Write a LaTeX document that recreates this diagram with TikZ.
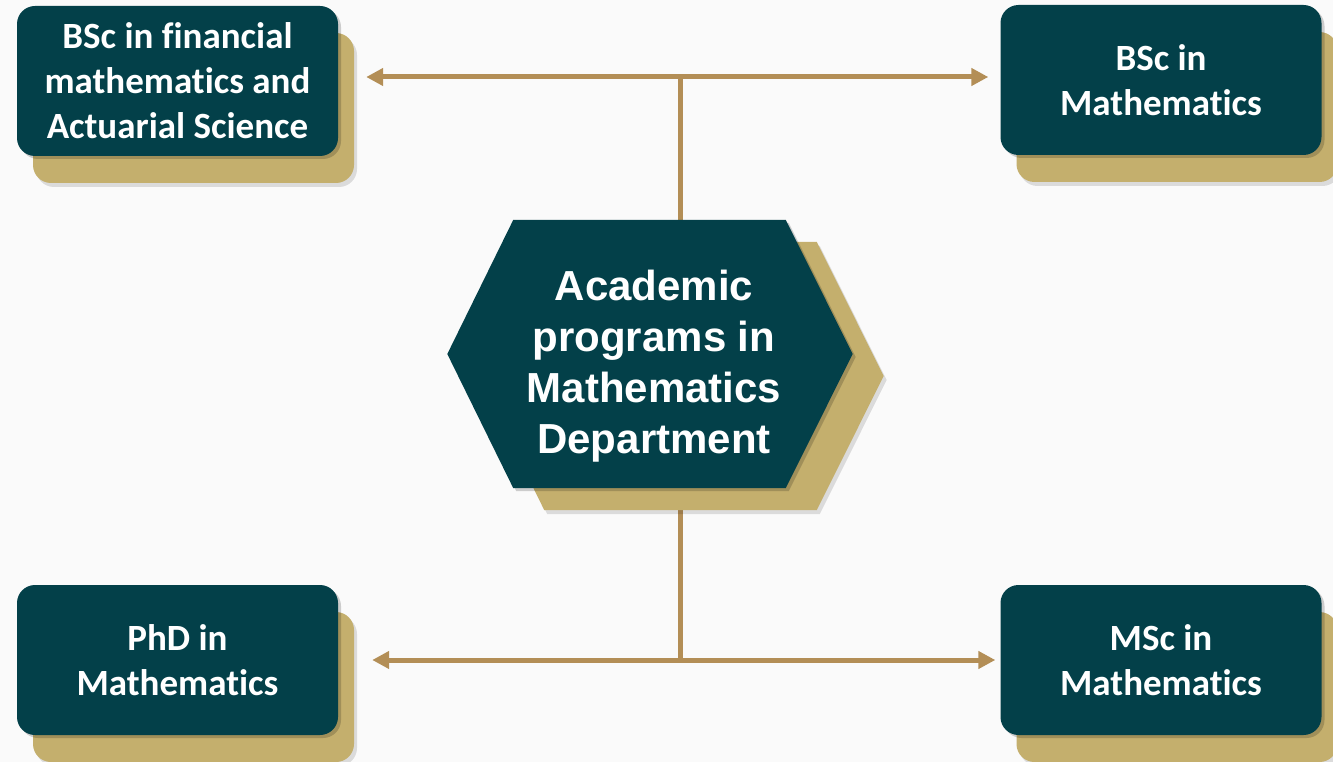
\documentclass[tikz,border=0pt]{standalone}
\usepackage{fontspec}
\setmainfont{Carlito}[Ligatures=NoCommon]
\newfontfamily\hexfont{Liberation Sans}
\usetikzlibrary{arrows.meta, positioning, shadows, backgrounds}
\definecolor{deepteal}{RGB}{3,64,73}
\definecolor{sand}{RGB}{196,175,109}
\definecolor{bronze}{RGB}{179,142,86}
\definecolor{paper}{RGB}{250,250,250}
\tikzset{
    program/.style={fill=deepteal, rounded corners=18pt, minimum width=321pt, minimum height=150pt,
        text=white, align=center, font=\fontsize{37}{45}\selectfont\bfseries,
        general shadow={shadow xshift=19pt, shadow yshift=-31pt, fill=black, opacity=0.12}, % soft shade under the sand card
        general shadow={shadow xshift=16pt, shadow yshift=-27pt, fill=sand}, % the sand card behind
        general shadow={shadow xshift=3pt, shadow yshift=-3pt, fill=black, opacity=0.18}}, % shade of the teal card
    link/.style={draw=bronze, line width=5pt}, % connector lines
    tip/.style={-{Triangle[length=17pt, width=17pt]}}, % arrow heads
    }

\begin{document}
\begin{tikzpicture}[x=1pt, y=-1pt]
    \useasboundingbox (0,0) rectangle (1333,762);

    \node[program] at (177.5,81) (BSCFIN) {BSc in financial\\mathematics and\\Actuarial Science};
    \node[program] at (1161,80) (BSCMATH) {BSc in\\Mathematics};
    \node[program] at (177.5,660) (PHD) {PhD in\\Mathematics};
    \node[program] at (1161,660) (MSC) {MSc in\\Mathematics};

    \node[minimum width=405pt, minimum height=268pt, text=white, align=center,
          font=\hexfont\fontsize{42}{51}\selectfont\bfseries] at (654,366) (DEPT)
          {Academic\\programs in\\Mathematics\\Department};

    \coordinate (TOPJ) at (680,77);
    \coordinate (BOTJ) at (680,660);

    \begin{scope}[on background layer]
        \fill[paper] (0,0) rectangle (1333,762);
        \draw[link] (TOPJ) -- (BOTJ);
        \fill[deepteal, general shadow={shadow xshift=34pt, shadow yshift=-26pt, fill=black, opacity=0.12},
              general shadow={shadow xshift=31pt, shadow yshift=-22pt, fill=sand},
              general shadow={shadow xshift=3pt, shadow yshift=-3pt, fill=black, opacity=0.18}]
            ([shift={(-4,-12)}]DEPT.west) -- ([shift={(62,-12)}]DEPT.north west)
            -- ([shift={(-71,-12)}]DEPT.north east) -- ([shift={(-4,-12)}]DEPT.east)
            -- ([shift={(-71,-12)}]DEPT.south east) -- ([shift={(62,-12)}]DEPT.south west) -- cycle;
    \end{scope}

    \draw[link, tip, shorten >=28pt] (TOPJ) -- (BSCFIN.east |- TOPJ);
    \draw[link, tip, shorten >=12pt] (TOPJ) -- (BSCMATH.west |- TOPJ);
    \draw[link, tip, shorten >=34pt] (BOTJ) -- (PHD.east |- BOTJ);
    \draw[link, tip, shorten >=5pt] (BOTJ) -- (MSC.west |- BOTJ);

\end{tikzpicture}
\end{document}
